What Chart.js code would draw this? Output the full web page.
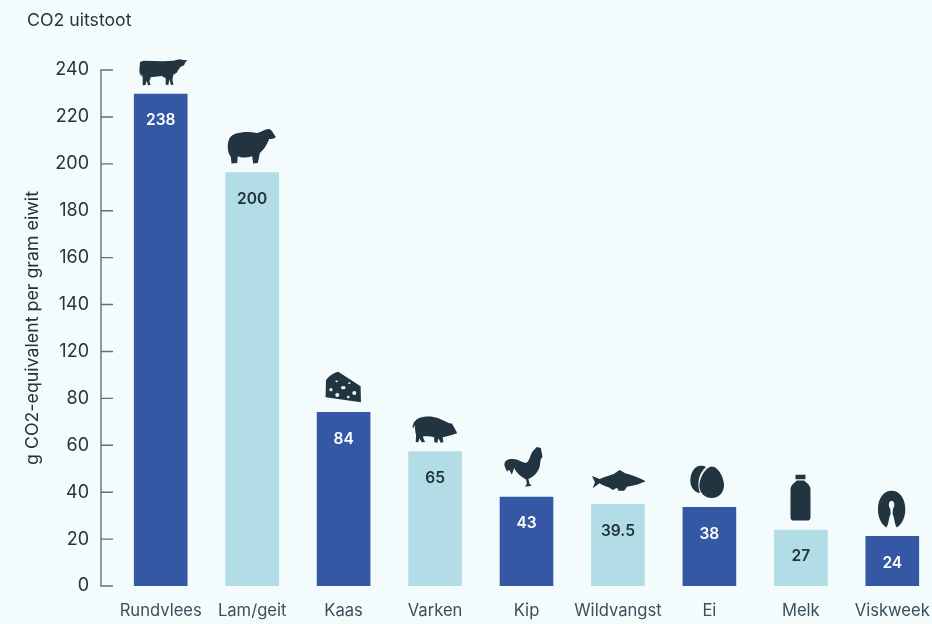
<!DOCTYPE html>
<html>
<head>
<meta charset="utf-8">
<title>CO2 uitstoot</title>
<script src="https://cdn.jsdelivr.net/npm/chart.js@4"></script>
<style>
html, body { margin: 0; padding: 0; width: 932px; height: 624px; overflow: hidden; background: #f3fbfd; }
canvas { display: block; }
</style>
</head>
<body>
<canvas id="barChart" width="960" height="624"></canvas>
<script>
var categories = ['Rundvlees', 'Lam/geit', 'Kaas', 'Varken', 'Kip', 'Wildvangst', 'Ei', 'Melk', 'Viskweek'];
var uitstoot = [238, 200, 84, 65, 43, 39.5, 38, 27, 24];
// the printed axis runs top to bottom and has no 100
var tickLabels = ['240', '220', '200', '180', '160', '140', '120', '80', '60', '40', '20', '0'];

var donker = '#22343f';
var blauw = '#3558a5';
var lichtblauw = '#b2dde6';
var lettertype = 'Inter, "Noto Sans", sans-serif';

// silhouettes, 3 path units to a pixel; ox/oy is the point that sits on the top centre of the bar
var iconen = [
    { ox: 92, oy: 132, d: 'M30 36L40 32L70 33L100 34L130 32L148 28L160 30L172 31L165 38L162 46L152 50L146 58L140 68L130 74L127 90L130 104L123 105L118 88L115 104L107 105L107 85L95 78L75 80L62 82L58 95L62 104L54 106L50 92L46 105L38 106L38 85L36 72L33 82L33 70L30 78L28 60Z' },
    { ox: 367, oy: 369, d: 'M298 268C306 248 350 244 380 250C395 248 405 238 418 238C425 240 430 250 438 262C432 268 425 268 418 268C412 285 402 300 390 310L384 340L370 342L367 320C350 325 335 325 324 320L322 340L305 342L303 322C293 310 291 285 298 268Z' },
    { ox: 101, oy: 158, d: 'M48 62C55 50 70 40 85 36L152 80L153 128L47 113Z' +
        'M58 90a5 5 0 1 0 10 0a5 5 0 1 0 -10 0Z' +
        'M76 106a6 6 0 1 0 12 0a6 6 0 1 0 -12 0Z' +
        'M93 84a7 5 0 1 0 14 0a7 5 0 1 0 -14 0Z' +
        'M127 100a6 6 0 1 0 12 0a6 6 0 1 0 -12 0Z' +
        'M111 112a4 4 0 1 0 8 0a4 4 0 1 0 -8 0Z' +
        'M76 65a4 2.5 0 1 0 8 0a4 2.5 0 1 0 -8 0Z' +
        'M114 70a4 2.5 0 1 0 8 0a4 2.5 0 1 0 -8 0Z' },
    { ox: 375, oy: 275, d: 'M316 182C325 170 360 165 385 175C400 180 415 192 425 190L430 198C435 208 440 214 441 220L425 225L405 230L398 232L400 247L392 248L385 235L382 248L373 247L372 232C360 228 345 228 338 230L345 246L335 247L328 235L325 247L317 246L318 225C315 215 315 205 314 195L310 205L307 200L312 186Z' },
    { ox: 649, oy: 412, d: 'M672 270L680 262L692 265L695 280L697 292L692 298L690 310C690 330 675 350 655 358L658 372L665 378L645 381L650 372L648 360C630 350 618 338 612 325L605 345L597 330L590 335L583 318C580 302 595 295 610 298C625 298 638 312 650 308C660 302 660 280 672 270Z' },
    { ox: 113, oy: 163, d: 'M35 78L58 87C72 80 90 76 100 72L118 60L135 70C155 75 180 85 196 94C180 102 160 108 140 110L132 122L115 122L110 113L98 120L85 112C75 110 65 105 58 100L37 115L44 97Z' },
    { ox: 388, oy: 173, d: 'M360 48C340 50 330 75 331 95C332 115 345 128 360 130C350 105 355 70 378 52C372 48 366 47 360 48Z' +
        'M395 50C375 52 358 85 358 108C358 130 375 145 395 145C415 145 432 130 432 105C432 85 415 50 395 50Z' },
    { ox: 662, oy: 241, d: 'M646 75L676 75L676 88L646 88Z' +
        'M650 92L672 92C680 100 691 105 691 120L691 202Q691 212 681 212L641 212Q631 212 631 202L631 120C631 105 642 100 650 92Z' },
    { ox: 936, oy: 259, d: 'M934 122C958 122 975 145 975 178C975 202 965 222 950 232C942 225 944 205 937 192L938 176C945 168 943 152 934 152C925 152 923 168 930 176L931 192C924 205 926 225 918 232C903 222 893 202 893 178C893 145 910 122 934 122Z' }
];

// axis rail with its ticks pointing into the plot
var asLijn = {
    id: 'asLijn',
    afterDraw: function (chart) {
        var schaal = chart.scales.yTicks;
        var rechts = chart.chartArea.left - 2;
        var links = rechts - 12;
        var ctx = chart.ctx;
        ctx.save();
        ctx.strokeStyle = '#5f727c';
        ctx.lineWidth = 1.4;
        ctx.beginPath();
        ctx.moveTo(links, schaal.getPixelForTick(0) - 0.7);
        ctx.lineTo(links, schaal.getPixelForTick(tickLabels.length - 1) + 0.7);
        for (var i = 0; i < tickLabels.length; i++) {
            var y = schaal.getPixelForTick(i);
            ctx.moveTo(links, y);
            ctx.lineTo(rechts, y);
        }
        ctx.stroke();
        ctx.restore();
    }
};

// value inside each bar, icon on top of it
var staafTekst = {
    id: 'staafTekst',
    afterDatasetsDraw: function (chart) {
        var ctx = chart.ctx;
        var staven = chart.getDatasetMeta(0).data;
        ctx.save();
        ctx.textAlign = 'center';
        ctx.textBaseline = 'middle';
        ctx.font = '600 15.5px ' + lettertype;
        for (var i = 0; i < staven.length; i++) {
            var staaf = staven[i];
            ctx.fillStyle = i % 2 ? donker : '#ffffff';
            ctx.fillText(String(uitstoot[i]), staaf.x, staaf.y + 26.5);

            var icoon = iconen[i];
            ctx.save();
            ctx.translate(staaf.x, staaf.y);
            ctx.scale(1 / 3, 1 / 3);
            ctx.translate(-icoon.ox, -icoon.oy);
            ctx.fillStyle = donker;
            ctx.fill(new Path2D(icoon.d), 'evenodd');
            ctx.restore();
        }
        ctx.restore();
    }
};

var chart = new Chart(document.querySelector('#barChart'), {
    type: 'bar',
    data: {
        labels: categories,
        datasets: [{
            data: uitstoot,
            yAxisID: 'y',
            barThickness: 53,
            backgroundColor: function (ctx) {
                return ctx.dataIndex % 2 ? lichtblauw : blauw;
            }
        }]
    },
    plugins: [asLijn, staafTekst],
    options: {
        responsive: false,
        animation: false,
        layout: { padding: { left: 27, right: 22 } },
        plugins: {
            legend: { display: false },
            tooltip: { enabled: false },
            title: {
                display: true,
                text: 'CO2 uitstoot',
                align: 'start',
                color: donker,
                font: { family: lettertype, size: 17.7, weight: '400' },
                padding: { top: 10, bottom: 38.8 }
            }
        },
        scales: {
            x: {
                grid: { display: false },
                border: { display: false },
                ticks: {
                    color: '#3a4f5b',
                    autoSkip: false,
                    maxRotation: 0,
                    padding: 7,
                    font: { family: lettertype, size: 16.6 }
                },
                afterFit: function (schaal) { schaal.height = 38; }
            },
            y: {
                display: false,
                min: 0,
                max: 249.6
            },
            yTicks: {
                type: 'category',
                position: 'left',
                labels: tickLabels,
                grid: { display: false },
                border: { display: false },
                ticks: {
                    color: donker,
                    autoSkip: false,
                    padding: 18,
                    font: { family: lettertype, size: 18 }
                },
                title: {
                    display: true,
                    text: 'g CO2-equivalent per gram eiwit',
                    color: donker,
                    padding: 0,
                    font: { family: lettertype, size: 17.8, lineHeight: 0.68 }
                },
                afterFit: function (schaal) { schaal.width = 88; }
            }
        }
    }
});
</script>
</body>
</html>
